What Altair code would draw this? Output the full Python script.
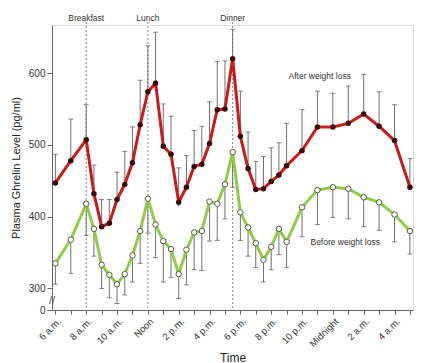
import altair as alt
import pandas as pd

# Hours after 6 a.m.
times = [0, 1, 2, 2.5, 3, 3.5, 4, 4.5, 5, 5.5, 6, 6.5, 7, 7.5, 8, 8.5, 9, 9.5, 10, 10.5,
         11, 11.5, 12, 12.5, 13, 13.5, 14, 14.5, 15, 16, 17, 18, 19, 20, 21, 22, 23]
after = [447, 478, 507, 432, 386, 391, 424, 445, 475, 528, 574, 586, 498, 487, 420, 441,
         470, 473, 502, 549, 550, 620, 512, 467, 438, 439, 449, 458, 471, 492, 525, 525,
         530, 543, 526, 506, 441]
after_upper = [487, 536, 556, 472, 424, 424, 462, 491, 525, 590, 638, 657, 557, 540, 468, 485,
               520, 526, 560, 616, 617, 661, 575, 518, 477, 484, 496, 503, 530, 549, 575, 572,
               582, 598, 574, 556, 481]
before = [335, 368, 418, 383, 333, 319, 306, 320, 346, 380, 425, 389, 366, 355, 320, 354,
          378, 380, 421, 418, 445, 490, 406, 385, 363, 340, 358, 383, 365, 413, 437, 441,
          439, 427, 420, 403, 380]
before_lower = [306, 321, 374, 345, 300, 287, 279, 291, 309, 335, 377, 343, 309, 315, 286, 305,
                326, 325, 366, 367, 397, 441, 367, 345, 329, 309, 326, 347, 329, 372, 389, 399,
                397, 386, 381, 365, 348]

tick_hours = list(range(0, 24))
tick_labels = ["6 a.m.", "", "8 a.m.", "", "10 a.m.", "", "Noon", "", "2 p.m.", "", "4 p.m.", "",
               "6 p.m.", "", "8 p.m.", "", "10 p.m.", "", "Midnight", "", "2 a.m.", "", "4 a.m.", ""]

meal_names = ["Breakfast", "Lunch", "Dinner"]
meal_hours = [2, 6, 11.5]

y_ticks = [270, 300, 400, 500, 600]

series_names = ["After weight loss", "Before weight loss"]
series_label_t = [17.15, 18.8]
series_label_v = [596, 365]

FONT = "Liberation Sans"

df = pd.DataFrame({"t": times, "after": after, "after_upper": after_upper,
                   "before": before, "before_lower": before_lower})
meals = pd.DataFrame({"t": meal_hours, "name": meal_names})

label_expr = "[" + ",".join("'%s'" % s for s in tick_labels) + "][datum.value]"
ylab_expr = "datum.value == 270 ? '0' : datum.label"

xs = alt.Scale(domain=[-0.22, 23.2], nice=False, zero=False)
ys = alt.Scale(domain=[270, 667], nice=False, zero=False)

x_axis = alt.Axis(values=tick_hours, labelExpr=label_expr, labelAngle=315, grid=False,
                  title="Time", titleFontWeight="normal", titleFontSize=12,
                  titleY=47, titleBaseline="middle",
                  labelFontSize=9.5, labelColor="#333", tickSize=4, domainColor="#666",
                  tickColor="#666", labelPadding=2, labelOverlap=False, labelBound=False)
y_axis = alt.Axis(values=y_ticks, labelExpr=ylab_expr, grid=False,
                  title="Plasma Ghrelin Level (pg/ml)", titleFontWeight="normal", titleFontSize=11,
                  titlePadding=7, labelFontSize=10, labelColor="#333", tickSize=5,
                  domainColor="#666", tickColor="#666", labelPadding=2)

X = alt.X("t:Q", scale=xs, axis=x_axis)

base = alt.Chart(df)

meal_lines = alt.Chart(meals).mark_rule(strokeDash=[2, 2], color="#888", strokeWidth=1).encode(
    x=X, y=alt.value(-3), y2=alt.value(285))

meal_text = alt.Chart(meals).mark_text(fontSize=8.5, font=FONT, color="#333", baseline="middle").encode(
    x=X, y=alt.value(-7), text="name:N")

red_err = base.mark_rule(color="#6f6f6f", strokeWidth=1).encode(
    x=X, y=alt.Y("after:Q", scale=ys, axis=y_axis), y2="after_upper:Q")
red_cap = base.mark_tick(color="#555", orient="horizontal", size=5, thickness=1).encode(
    x=X, y=alt.Y("after_upper:Q", scale=ys, axis=y_axis))
green_err = base.mark_rule(color="#6f6f6f", strokeWidth=1).encode(
    x=X, y=alt.Y("before_lower:Q", scale=ys, axis=y_axis), y2="before:Q")
green_cap = base.mark_tick(color="#555", orient="horizontal", size=5, thickness=1).encode(
    x=X, y=alt.Y("before_lower:Q", scale=ys, axis=y_axis))

red_line = base.mark_line(color="#cc1a1a", strokeWidth=3).encode(
    x=X, y=alt.Y("after:Q", scale=ys, axis=y_axis))
red_pts = base.mark_point(filled=True, color="#3a0606", size=30, opacity=1).encode(
    x=X, y=alt.Y("after:Q", scale=ys, axis=y_axis))
green_line = base.mark_line(color="#92ca4a", strokeWidth=3).encode(
    x=X, y=alt.Y("before:Q", scale=ys, axis=y_axis))
green_pts = base.mark_point(filled=True, fill="white", stroke="#4f5f38", strokeWidth=1,
                            size=30, opacity=1).encode(
    x=X, y=alt.Y("before:Q", scale=ys, axis=y_axis))

series_labels = pd.DataFrame({"t": series_label_t, "v": series_label_v, "label": series_names})
series_text = alt.Chart(series_labels).mark_text(fontSize=8.5, font=FONT, color="#333").encode(
    x=X, y=alt.Y("v:Q", scale=ys, axis=y_axis), text="label:N")

brk = pd.DataFrame({"v": [283]})
break_gap = alt.Chart(brk).mark_text(text="//", fontSize=11, font=FONT, color="#555").encode(
    x=alt.value(0), y=alt.Y("v:Q", scale=ys, axis=y_axis))

chart = alt.layer(meal_lines, meal_text, red_err, red_cap, green_err, green_cap,
                  red_line, green_line, red_pts, green_pts, series_text, break_gap).properties(
    width=361, height=285,
    autosize=alt.AutoSizeParams(type="none"),
    padding={"left": 44, "top": 17, "right": 10, "bottom": 53},
).configure_view(stroke=None).configure(font=FONT).configure_axis(
    labelFont=FONT, titleFont=FONT, titleColor="#222").configure_axisX(labelOverlap=False)

chart.save("out.html", embed_options={"renderer": "svg", "actions": False})
